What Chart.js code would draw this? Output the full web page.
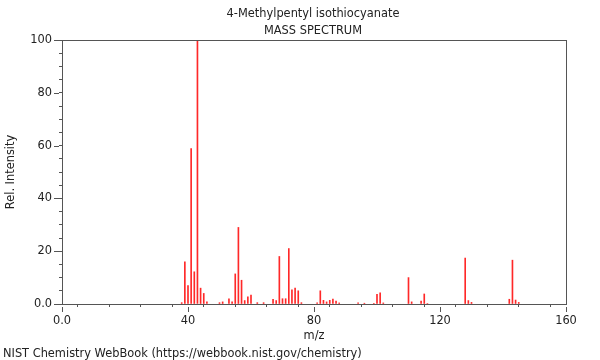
<!DOCTYPE html>
<html lang="en">
<head>
<meta charset="UTF-8">
<title>4-Methylpentyl isothiocyanate - Mass Spectrum</title>
<script src="https://cdn.jsdelivr.net/npm/chart.js@4.4.4/dist/chart.umd.min.js"></script>
<style>
  html, body { margin: 0; padding: 0; background: #fff; }
  #wrap { position: relative; width: 600px; height: 360px; font-family: "DejaVu Sans", sans-serif; color: #222; }
  .txt { position: absolute; font-size: 11.4px; white-space: nowrap; }
  #title1 { top: 6px; left: 0; width: 626px; text-align: center; }
  #title2 { top: 23px; left: 0; width: 626px; text-align: center; }
  #footer { top: 346px; left: 3px; }
</style>
</head>
<body>
<div id="wrap">
  <canvas id="ms-chart" width="600" height="360"></canvas>
  <div id="title1" class="txt">4-Methylpentyl isothiocyanate</div>
  <div id="title2" class="txt">MASS SPECTRUM</div>
  <div id="footer" class="txt">NIST Chemistry WebBook (https://webbook.nist.gov/chemistry)</div>
</div>

<script>
// m/z values and relative intensities
const mzValues = [38, 39, 40, 41, 42, 43, 44, 45, 46,
  50, 51, 53, 54, 55, 56, 57, 58, 59, 60,
  62, 64,
  67, 68, 69, 70, 71, 72, 73, 74, 75, 76,
  81, 82, 83, 84, 85, 86, 87, 88,
  94, 96, 99, 100, 101, 102,
  110, 111, 114, 115, 116,
  128, 129, 130,
  142, 143, 144, 145];
const intensities = [0.5, 16, 7, 58.9, 12.2, 100, 6, 4, 0.8,
  0.5, 0.8, 2, 0.8, 11.4, 29, 9, 1.3, 2.7, 3.4,
  0.5, 0.5,
  1.8, 1.3, 18, 2, 2, 21, 5.4, 6, 5, 0.5,
  0.4, 5, 1.4, 0.8, 1.4, 1.9, 1.1, 0.4,
  0.4, 0.3, 0.3, 3.7, 4.2, 0.4,
  10, 0.8, 1.1, 3.8, 0.2,
  17.4, 1.3, 0.6,
  1.8, 16.6, 1.5, 0.6];
const xTickLabels = [0, 40, 80, 120, 160];
const yTickLabels = [0, 20, 40, 60, 80, 100];

const points = mzValues.map((m, i) => ({ x: m, y: intensities[i] }));

// box round the plot area, and longer ticks at the labelled values
const frame = {
  id: 'frame',
  afterDraw(chart) {
    const a = chart.chartArea;
    const c = chart.ctx;
    c.save();
    c.strokeStyle = '#555';
    c.lineWidth = 1;
    c.strokeRect(Math.round(a.left) + 0.5, Math.round(a.top) + 0.5,
      Math.round(a.right - a.left), Math.round(a.bottom - a.top));
    c.beginPath();
    xTickLabels.forEach(v => {
      const px = Math.round(chart.scales.x.getPixelForValue(v)) + 0.5;
      c.moveTo(px, a.bottom + 3);
      c.lineTo(px, a.bottom + 8);
    });
    yTickLabels.forEach(v => {
      const py = Math.round(chart.scales.y.getPixelForValue(v)) + 0.5;
      c.moveTo(a.left - 3, py);
      c.lineTo(a.left - 8, py);
    });
    c.stroke();
    c.restore();
  }
};

Chart.defaults.font.family = '"DejaVu Sans", sans-serif';
Chart.defaults.font.size = 11.4;
Chart.defaults.color = '#222';

function fmt(v, list) {
  if (!list.includes(v)) return '';
  return v === 0 ? '0.0' : String(v);
}

new Chart(document.getElementById('ms-chart'), {
  type: 'bar',
  data: {
    datasets: [{
      data: points,
      backgroundColor: 'rgb(255, 40, 40)',
      barThickness: 1,
      borderWidth: 0
    }]
  },
  plugins: [frame],
  options: {
    responsive: false,
    animation: false,
    layout: { padding: { left: 0, right: 34, top: 40, bottom: 11 } },
    plugins: { legend: { display: false }, tooltip: { enabled: false } },
    scales: {
      x: {
        type: 'linear',
        min: 0,
        max: 160,
        offset: false,
        afterFit: s => { s.height = 45; },
        ticks: {
          stepSize: 10,
          autoSkip: false,
          maxRotation: 0,
          padding: 7,
          callback: v => fmt(v, xTickLabels)
        },
        grid: { drawOnChartArea: false, tickLength: 3, color: '#555' },
        border: { color: '#555' },
        title: { display: true, text: 'm/z', padding: { top: 0, bottom: 6 } }
      },
      y: {
        min: 0,
        max: 100,
        afterFit: s => { s.width = 62; },
        ticks: {
          stepSize: 5,
          autoSkip: false,
          padding: 7,
          callback: v => fmt(v, yTickLabels)
        },
        grid: { drawOnChartArea: false, tickLength: 3, color: '#555' },
        border: { color: '#555' },
        title: { display: true, text: 'Rel. Intensity', padding: { top: 4, bottom: 0 } }
      }
    }
  }
});
</script>
</body>
</html>
